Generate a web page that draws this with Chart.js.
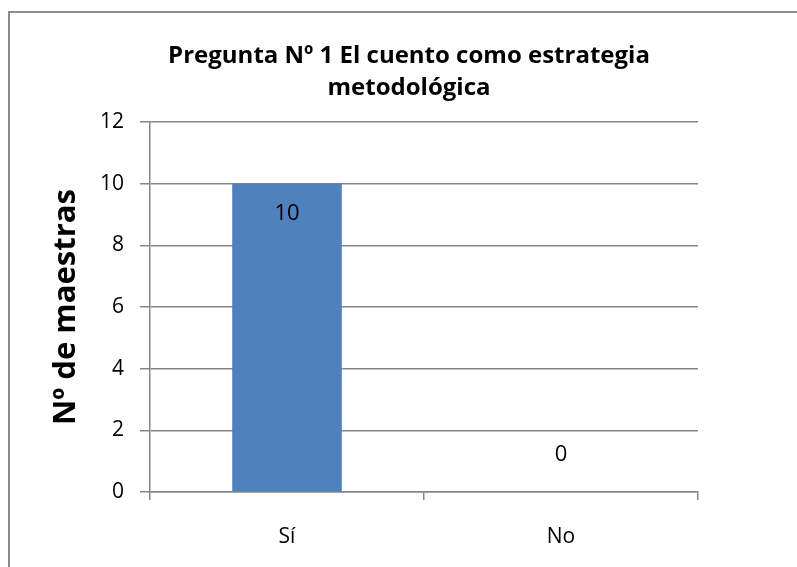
<!DOCTYPE html>
<html>
<head>
<meta charset="utf-8">
<script src="https://cdn.jsdelivr.net/npm/chart.js@4.4.0/dist/chart.umd.min.js"></script>
<style>
    html, body { margin: 0; padding: 0; background: #fff; overflow: hidden; }
    #marco {
        position: absolute; left: 8px; top: 11px; width: 820px; height: 600px;
        border-top: 2px solid #8c8c8c; border-left: 2px solid #8c8c8c;
    }
    #zona { position: absolute; left: 0; top: 0; width: 797px; height: 567px; }
</style>
</head>
<body>
<div id="marco"></div>
<div id="zona"><canvas id="grafico" width="797" height="567"></canvas></div>
<script>
// datos del grafico
const categorias = ["Sí", "No"];
const maestras = [10, 0];
const tituloGrafico = ["Pregunta Nº 1 El cuento como estrategia", "metodológica"];
const tituloEjeY = "Nº de maestras";

const fuente = "'Open Sans', sans-serif";

// titulo centrado sobre todo el grafico (no solo sobre el area de datos)
const tituloCentrado = {
    id: "tituloCentrado",
    afterDraw(chart) {
        const ctx = chart.ctx;
        ctx.save();
        ctx.font = "bold 24px " + fuente;
        ctx.fillStyle = "#000";
        ctx.textAlign = "center";
        ctx.textBaseline = "middle";
        tituloGrafico.forEach((linea, i) => {
            ctx.fillText(linea, 409, 56 + i * 32);
        });
        ctx.restore();
    }
};

// etiquetas de valores sobre las barras
const etiquetasValores = {
    id: "etiquetasValores",
    afterDatasetsDraw(chart) {
        const ctx = chart.ctx;
        const meta = chart.getDatasetMeta(0);
        ctx.save();
        ctx.font = "22px " + fuente;
        ctx.fillStyle = "#000";
        ctx.textAlign = "center";
        ctx.textBaseline = "middle";
        meta.data.forEach((barra, i) => {
            const v = chart.data.datasets[0].data[i];
            const y = v > 0 ? barra.y + 30 : barra.y - 37;
            ctx.fillText(String(v), barra.x, y);
        });
        ctx.restore();
    }
};

new Chart(document.getElementById("grafico"), {
    type: "bar",
    data: {
        labels: categorias,
        datasets: [{
            data: maestras,
            backgroundColor: "#4f81bd",
            categoryPercentage: 0.8,
            barPercentage: 0.5
        }]
    },
    options: {
        responsive: false,
        animation: false,
        layout: { padding: { left: 48, right: 99, top: 122, bottom: 0 } },
        plugins: {
            legend: { display: false },
            tooltip: { enabled: false },
            title: { display: false }
        },
        scales: {
            x: {
                grid: { drawOnChartArea: false, color: "#868686", lineWidth: 1.5, tickLength: 8, offset: true },
                border: { color: "#868686", width: 1.5 },
                ticks: { color: "#000", font: { family: fuente, size: 21 }, padding: 24 },
                afterFit: s => { s.height = 75; }
            },
            y: {
                min: 0, max: 12,
                ticks: { stepSize: 2, color: "#000", font: { family: fuente, size: 21 }, padding: 16 },
                grid: { color: "#868686", lineWidth: 1.5, tickLength: 10 },
                border: { color: "#868686", width: 1.5 },
                title: {
                    display: true, text: tituloEjeY, color: "#000",
                    font: { family: fuente, size: 31, weight: "bold", lineHeight: 1.2 },
                    padding: 0
                },
                afterFit: s => { s.width = 102; }
            }
        }
    },
    plugins: [etiquetasValores, tituloCentrado]
});
</script>
</body>
</html>
